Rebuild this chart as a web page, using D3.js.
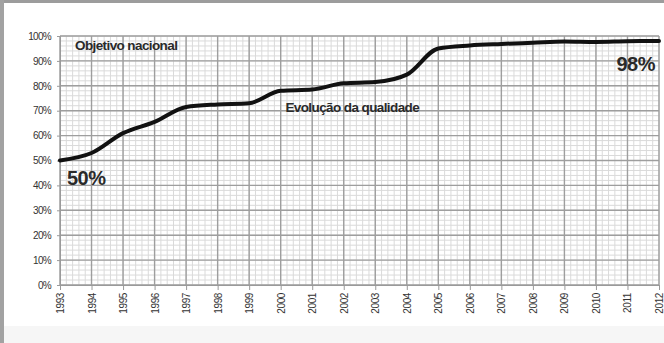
<!DOCTYPE html>
<html>
<head>
<meta charset="utf-8">
<script src="https://cdn.jsdelivr.net/npm/d3@7"></script>
<style>
  html, body { margin: 0; padding: 0; background: #ffffff; }
  svg { display: block; }
</style>
</head>
<body>
<svg id="chart" width="664" height="343"></svg>
<script>
// Yearly quality figures (%) from 1993 to 2012
const years = [1993, 1994, 1995, 1996, 1997, 1998, 1999, 2000, 2001, 2002,
               2003, 2004, 2005, 2006, 2007, 2008, 2009, 2010, 2011, 2012];
const quality = [50, 53, 61, 65.5, 71.5, 72.5, 73, 78, 78.5, 81,
                 81.5, 84.5, 95, 96.2, 96.8, 97.3, 97.8, 97.6, 97.9, 98];
const yTicks = [0, 10, 20, 30, 40, 50, 60, 70, 80, 90, 100];
const startLabel = "50%";
const endLabel = "98%";
const goalTitle = "Objetivo nacional";
const seriesTitle = "Evolução da qualidade";

const svg = d3.select("#chart");
const W = 664, H = 343;
const m = { left: 60, right: 5, top: 36, bottom: 58 };

// Photo-style frame around the chart
svg.append("rect").attr("width", W).attr("height", H).attr("fill", "#ffffff");
svg.append("rect").attr("x", 0).attr("y", 326).attr("width", W).attr("height", H - 326).attr("fill", "#f6f6f6");
svg.append("rect").attr("x", 0).attr("y", 0).attr("width", W).attr("height", 3).attr("fill", "#9c9c9c");
svg.append("rect").attr("x", 0).attr("y", 0).attr("width", 4).attr("height", H).attr("fill", "#a2a2a2");

const x = d3.scaleLinear().domain([1993, 2012]).range([m.left, W - m.right]);
const y = d3.scaleLinear().domain([0, 100]).range([H - m.bottom, m.top]);

const g = svg.append("g");

// Fine graph-paper grid
const minorX = d3.range(1993, 2012.001, 0.2);
const minorY = d3.range(0, 100.001, 2);
g.append("g").selectAll("line").data(minorX).join("line")
  .attr("x1", d => x(d)).attr("x2", d => x(d))
  .attr("y1", y(0)).attr("y2", y(100))
  .attr("stroke", "#dadada").attr("stroke-width", 1);
g.append("g").selectAll("line").data(minorY).join("line")
  .attr("x1", x(1993)).attr("x2", x(2012))
  .attr("y1", d => y(d)).attr("y2", d => y(d))
  .attr("stroke", "#dadada").attr("stroke-width", 1);

// Major grid
g.append("g").selectAll("line").data(years).join("line")
  .attr("x1", d => x(d)).attr("x2", d => x(d))
  .attr("y1", y(0)).attr("y2", y(100))
  .attr("stroke", "#9e9e9e").attr("stroke-width", 1.4);
g.append("g").selectAll("line").data(yTicks).join("line")
  .attr("x1", x(1993)).attr("x2", x(2012))
  .attr("y1", d => y(d)).attr("y2", d => y(d))
  .attr("stroke", "#9e9e9e").attr("stroke-width", 1.4);

// Axes
const yAxis = d3.axisLeft(y).tickValues(yTicks).tickFormat(d => d + "%").tickSize(3).tickPadding(6);
const ya = svg.append("g").attr("transform", `translate(${m.left},0)`).call(yAxis);
ya.select(".domain").attr("stroke", "#9a9a9a");
ya.selectAll(".tick line").attr("stroke", "#9a9a9a");
ya.selectAll("text").attr("font-family", "Liberation Sans, Arial, sans-serif")
  .attr("font-size", 10).attr("letter-spacing", -0.7).attr("fill", "#333");

const xAxis = d3.axisBottom(x).tickValues(years).tickFormat(d3.format("d")).tickSize(5).tickPadding(4);
const xa = svg.append("g").attr("transform", `translate(0,${y(0)})`).call(xAxis);
xa.select(".domain").attr("stroke", "#9a9a9a");
xa.selectAll(".tick line").attr("stroke", "#9a9a9a");
xa.selectAll("text")
  .attr("font-family", "Liberation Sans, Arial, sans-serif")
  .attr("font-size", 10).attr("letter-spacing", -0.4).attr("fill", "#333")
  .attr("transform", "rotate(-90)")
  .attr("text-anchor", "end")
  .attr("x", -8).attr("y", 0).attr("dy", "0.35em");

// Quality curve
const line = d3.line().x((d, i) => x(years[i])).y(d => y(d)).curve(d3.curveMonotoneX);
svg.append("path").datum(quality)
  .attr("d", line)
  .attr("fill", "none").attr("stroke", "#111").attr("stroke-width", 4)
  .attr("stroke-linejoin", "round").attr("stroke-linecap", "round");

// Annotations
const lab = (t, px, py, size, anchor) => svg.append("text").text(t)
  .attr("x", px).attr("y", py)
  .attr("font-family", "Liberation Sans, Arial, sans-serif")
  .attr("font-weight", "bold").attr("font-size", size)
  .attr("text-anchor", anchor || "start").attr("fill", "#2a2a2a");

lab(goalTitle, x(1993) + 15, y(94.3), 13.5).attr("letter-spacing", -0.6);
lab(seriesTitle, x(2000.15), y(69.3), 13.5).attr("letter-spacing", -0.6);
lab(startLabel, x(1993) + 7, y(50) + 24, 20).attr("letter-spacing", -0.5);
lab(endLabel, x(2012) - 4, y(86), 20, "end").attr("letter-spacing", -0.5);
</script>
</body>
</html>
